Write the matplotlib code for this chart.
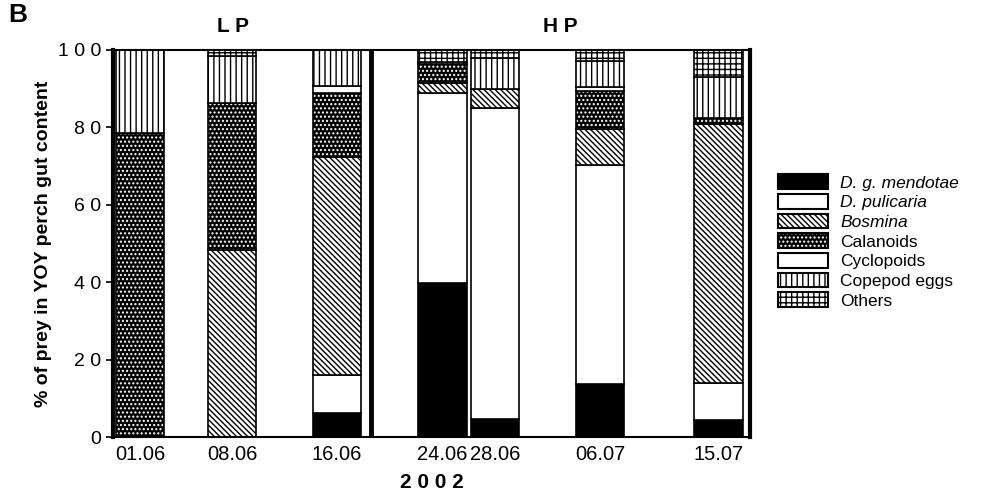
import numpy as np
import matplotlib.pyplot as plt
from matplotlib.patches import Patch
from matplotlib.legend_handler import HandlerTuple

# sampling dates (day.month, 2002) and share of prey (%) per taxon
dates = ['01.06', '08.06', '16.06', '24.06', '28.06', '06.07', '15.07']
taxa = ['D. g. mendotae', 'D. pulicaria', 'Bosmina', 'Calanoids',
        'Cyclopoids', 'Copepod eggs', 'Others']

dg_mendotae = [0.0, 0.0, 6.3, 39.7, 4.6, 13.6, 4.4]
d_pulicaria = [0.0, 0.0, 9.7, 49.3, 80.3, 56.7, 9.6]
bosmina = [0.0, 48.3, 56.3, 2.6, 4.9, 9.2, 66.9]
calanoids = [78.6, 37.9, 16.5, 4.9, 0.0, 10.0, 1.5]
cyclopoids = [0.0, 0.0, 2.0, 0.0, 0.0, 1.0, 0.0]
copepod_eggs = [21.4, 12.3, 9.2, 0.5, 8.1, 6.7, 10.7]
others = [0.0, 1.5, 0.0, 3.0, 2.1, 2.8, 6.9]

series = [dg_mendotae, d_pulicaria, bosmina, calanoids, cyclopoids, copepod_eggs, others]
# (face, hatch, hatch colour)
styles = [('black', '', 'black'),
          ('white', '', 'black'),
          ('white', '\\\\\\\\\\\\', 'black'),
          ('black', '....', 'white'),
          ('white', '', 'black'),
          ('white', '|||', 'black'),
          ('white', '+++', 'black')]

# bar positions follow the calendar (day counted from 1 June)
def day_of(lbl):
    d, m = lbl.split('.')
    return int(d) + (30 if m == '07' else 0)

x = np.array([day_of(d) for d in dates], dtype=float)
width = 3.7

plt.rcParams['font.family'] = ['Liberation Sans', 'DejaVu Sans']
plt.rcParams['hatch.linewidth'] = 1.0

fig = plt.figure(figsize=(9.97, 4.97), dpi=100)
ax = fig.add_axes([0.1133, 0.1207, 0.6389, 0.7787])

bottom = np.zeros(len(x))
for vals, (fc, h, hc) in zip(series, styles):
    vals = np.array(vals)
    ax.bar(x, vals, width, bottom=bottom, color=fc, edgecolor=hc,
           hatch=h, linewidth=0)
    ax.bar(x, vals, width, bottom=bottom, facecolor='none',
           edgecolor='black', linewidth=1.2)
    bottom += vals

# separator between LP and HP lakes
ax.axvline(18.6, color='black', lw=3.5)

ax.set_xlim(-1.05, 47.4)
ax.set_ylim(0, 100)
ax.set_xticks(x)
ax.set_xticklabels(dates, fontsize=14.5)
ax.set_yticks(np.arange(0, 101, 20))
ax.set_yticklabels([' '.join(str(v)) for v in range(0, 101, 20)], fontsize=14)
ax.tick_params(axis='x', length=0, pad=6)
ax.tick_params(axis='y', direction='out', length=5, width=1.2)
for s in ax.spines.values():
    s.set_linewidth(1.5)
ax.spines['left'].set_linewidth(3)
ax.spines['right'].set_linewidth(3)

ax.set_ylabel('% of prey in YOY perch gut content', fontsize=14,
              fontweight='bold', labelpad=4)
ax.set_xlabel('2 0 0 2', fontsize=15, fontweight='bold', labelpad=6)

fig.text(0.234, 0.935, 'L P', fontsize=15, fontweight='bold', ha='center')
fig.text(0.562, 0.935, 'H P', fontsize=15, fontweight='bold', ha='center')
fig.text(0.008, 0.955, 'B', fontsize=19, fontweight='bold')

handles = []
for fc, h, hc in styles:
    handles.append((Patch(facecolor=fc, edgecolor=hc, hatch=h, linewidth=0),
                    Patch(facecolor='none', edgecolor='black', linewidth=1.5)))
leg = fig.legend(handles, taxa, loc='upper left',
                 bbox_to_anchor=(0.773, 0.663),
                 handler_map={tuple: HandlerTuple(ndivide=1, pad=0)},
                 frameon=False, fontsize=12.5, handlelength=2.9, handleheight=0.9,
                 labelspacing=0.2, handletextpad=0.7, borderaxespad=0)
for t in leg.get_texts()[:3]:
    t.set_fontstyle('italic')

fig.savefig('out.png', dpi=100)
